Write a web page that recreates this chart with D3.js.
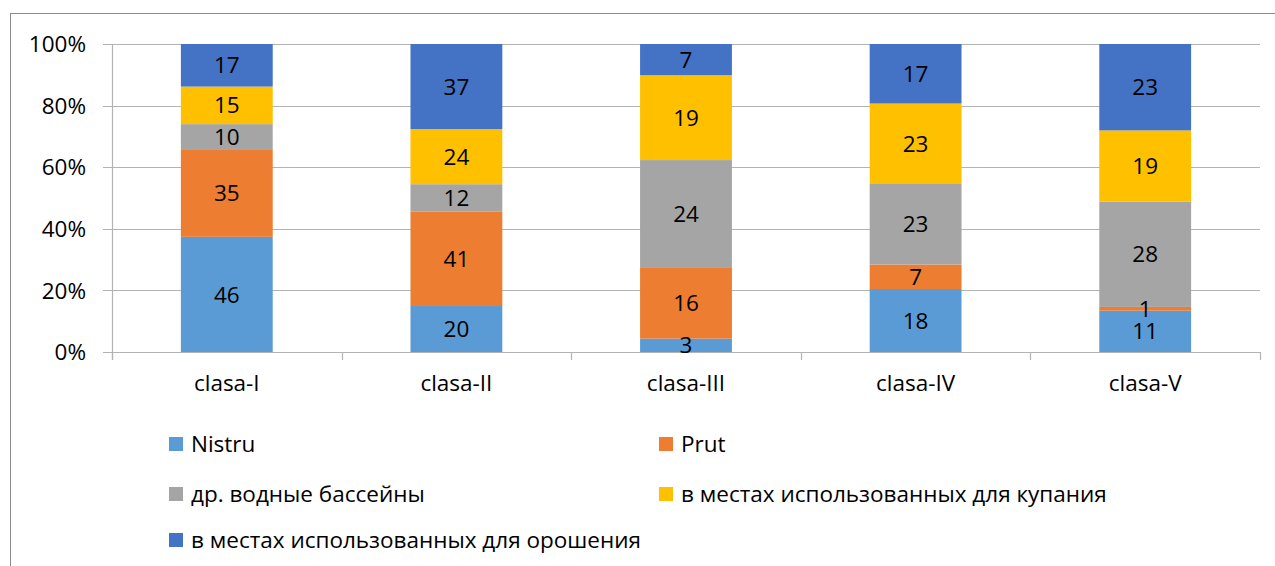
<!DOCTYPE html>
<html>
<head>
<meta charset="utf-8">
<title>Stacked 100%</title>
<script src="https://d3js.org/d3.v7.min.js"></script>
<style>
  body { margin: 0; background: #fff; }
  text { font-family: "Open Sans", Lato, sans-serif; fill: #000; }
</style>
</head>
<body>
<svg id="chart" width="1275" height="566"></svg>
<script>
const categories = ["clasa-I", "clasa-II", "clasa-III", "clasa-IV", "clasa-V"]
const seriesNames = ["Nistru", "Prut", "др. водные бассейны", "в местах использованных для купания", "в местах использованных для орошения"]
const nistru = [46, 20, 3, 18, 11]
const prut = [35, 41, 16, 7, 1]
const other = [10, 12, 24, 23, 28]
const bathing = [15, 24, 19, 23, 19]
const irrigation = [17, 37, 7, 17, 23]
const yTicks = [0, 0.2, 0.4, 0.6, 0.8, 1]
const colors = ["#5B9BD5", "#ED7D31", "#A5A5A5", "#FFC000", "#4472C4"]

const series = [nistru, prut, other, bathing, irrigation]
const rows = categories.map((c, i) => {
    const r = { cat: c }
    seriesNames.forEach((s, j) => r[s] = series[j][i])
    return r
})

const svg = d3.select("#chart")
const margin = { top: 44, left: 112, right: 15, bottom: 214 }
const width = +svg.attr("width")
const height = +svg.attr("height")
const innerWidth = width - margin.left - margin.right
const innerHeight = height - margin.top - margin.bottom
const fs = "22.5px"

// chart frame
svg.append("rect")
    .attr("x", 10.5).attr("y", 13.5)
    .attr("width", 1280).attr("height", 600)
    .attr("fill", "none").attr("stroke", "#8c8c8c").attr("stroke-width", 1)

const stacked = d3.stack().keys(seriesNames).offset(d3.stackOffsetExpand)(rows)

const x = d3.scaleBand().domain(categories).range([0, innerWidth]).paddingInner(0.6).paddingOuter(0.3)
const y = d3.scaleLinear().domain([0, 1]).range([innerHeight, 0])

const g = svg.append("g").attr("transform", `translate(${margin.left},${margin.top})`)

// gridlines
g.append("g").selectAll("line").data(yTicks).join("line")
    .attr("x1", -9).attr("x2", innerWidth)
    .attr("y1", d => Math.round(y(d)) + 0.5).attr("y2", d => Math.round(y(d)) + 0.5)
    .attr("stroke", "#b3b3b3").attr("stroke-width", 1.2)

g.append("g").selectAll("text").data(yTicks).join("text")
    .attr("x", -26).attr("y", d => y(d))
    .attr("dy", "0.36em")
    .attr("text-anchor", "end")
    .style("font-size", fs)
    .text(d3.format(".0%"))

// y axis line
g.append("line").attr("x1", 0.5).attr("x2", 0.5).attr("y1", 0).attr("y2", innerHeight + 8)
    .attr("stroke", "#b3b3b3").attr("stroke-width", 1.2)

// x tick marks at band boundaries
const bounds = d3.range(categories.length + 1).map(i => i * innerWidth / categories.length)
g.append("g").selectAll("line").data(bounds).join("line")
    .attr("x1", d => Math.round(d) + 0.5).attr("x2", d => Math.round(d) + 0.5)
    .attr("y1", innerHeight).attr("y2", innerHeight + 8)
    .attr("stroke", "#b3b3b3").attr("stroke-width", 1.2)

// bars
const layer = g.append("g").selectAll("g").data(stacked).join("g")
    .attr("fill", (d, i) => colors[i])
layer.selectAll("rect").data(d => d).join("rect")
    .attr("x", d => x(d.data.cat))
    .attr("width", x.bandwidth())
    .attr("y", d => y(d[1]))
    .attr("height", d => y(d[0]) - y(d[1]))

// value labels
const lbl = g.append("g").selectAll("g").data(stacked).join("g")
lbl.selectAll("text").data(d => d.map(v => ({ v, key: d.key }))).join("text")
    .attr("x", d => x(d.v.data.cat) + x.bandwidth() / 2)
    .attr("y", d => (y(d.v[0]) + y(d.v[1])) / 2)
    .attr("dy", "0.36em")
    .attr("text-anchor", "middle")
    .style("font-size", fs)
    .text(d => d.v.data[d.key])

// x labels
g.append("g").selectAll("text").data(categories).join("text")
    .attr("x", d => x(d) + x.bandwidth() / 2)
    .attr("y", innerHeight + 31)
    .attr("dy", "0.36em")
    .attr("text-anchor", "middle")
    .style("font-size", fs)
    .text(d => d)

// legend
const legendPos = [[169, 444], [659, 444], [169, 494], [659, 494], [169, 540]]
const leg = svg.append("g").selectAll("g").data(seriesNames).join("g")
    .attr("transform", (d, i) => `translate(${legendPos[i][0]},${legendPos[i][1]})`)
leg.append("rect").attr("x", 0).attr("y", -7).attr("width", 14).attr("height", 14)
    .attr("fill", (d, i) => colors[i])
leg.append("text").attr("x", 22).attr("y", 0).attr("dy", "0.36em")
    .style("font-size", fs)
    .text(d => d)
</script>
</body>
</html>
